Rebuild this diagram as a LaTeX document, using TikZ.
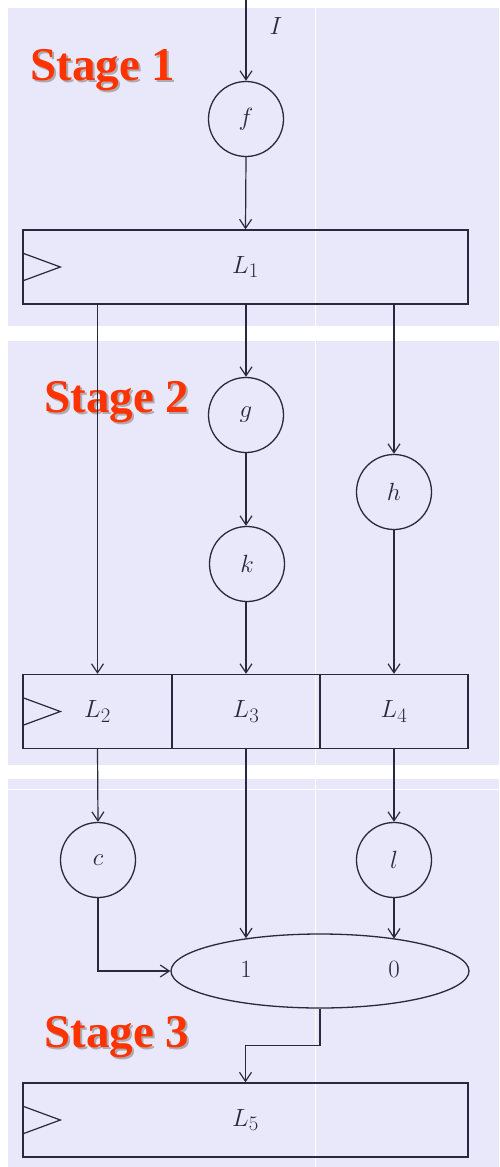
\documentclass[tikz,border=0pt]{standalone}
\usepackage{fontspec}
\newfontfamily\stagefont{Liberation Serif}
\usetikzlibrary{arrows.meta,shapes.geometric,calc}
\definecolor{lav}{RGB}{232,232,250}
\definecolor{ink}{RGB}{40,40,62}
\definecolor{stagered}{RGB}{255,51,0}
\definecolor{shadowgray}{RGB}{175,170,175}
\begin{document}
\begin{tikzpicture}[x=1pt,y=-1pt,
  every node/.style={font=\fontsize{29}{31}\selectfont, text=ink},
  bubble/.style={draw=ink, line width=1.3pt, circle, minimum size=75pt, inner sep=0pt},
  latch/.style={draw=ink, line width=1.3pt, rectangle, minimum height=74pt, inner sep=0pt},
  sel/.style={draw=ink, line width=1.3pt, ellipse, minimum width=298pt, minimum height=74pt, inner sep=0pt},
  arr/.style={draw=ink, line width=1.2pt, -{Straight Barb[length=9pt,width=12pt]}},
  wire/.style={draw=ink, line width=1.2pt},
  clk/.style={draw=ink, line width=1.2pt, line join=miter},
  stagelbl/.style={font=\stagefont\bfseries\fontsize{47}{50}\selectfont, text=stagered, anchor=base west},
  stageshadow/.style={font=\stagefont\bfseries\fontsize{47}{50}\selectfont, text=shadowgray, anchor=base west}
]
\useasboundingbox (0,0) rectangle (499,1167);
\fill[white] (0,0) rectangle (499,1167);
% panels
\fill[lav] (8,8) rectangle (499,326);
\fill[lav] (8,341) rectangle (499,765);
\fill[lav] (8,779) rectangle (499,1167);
\draw[white, line width=0.8pt] (315,8) -- (315,326);
\draw[white, line width=0.8pt] (315,341) -- (315,765);
\draw[white, line width=0.8pt] (315,779) -- (315,1167);
\draw[white, line width=0.8pt] (8,789) -- (499,789);

% stage labels
\node[stageshadow] at (29,82) {Stage 1};
\node[stagelbl] (s1) at (27,80) {Stage 1};
\node[stageshadow] at (43,414) {Stage 2};
\node[stagelbl] (s2) at (41,412) {Stage 2};
\node[stageshadow] at (43,1049) {Stage 3};
\node[stagelbl] (s3) at (41,1047) {Stage 3};

% stage 1
\coordinate (in) at (246,0);
\node (Ilbl) at (276,26) {$I$};
\node[bubble] (f) at (246,119) {$f$};
\node[latch, minimum width=445pt] (L1) at (245.5,267) {$L_1$};

% stage 2
\node[bubble] (g) at (246,415) {$g$};
\node[bubble] (k) at (247,564) {$k$};
\node[bubble] (h) at (394,492) {$h$};
\node[latch, minimum width=149pt] (L2) at (97.5,711.5) {$L_2$};
\node[latch, minimum width=148pt] (L3) at (246,711.5) {$L_3$};
\node[latch, minimum width=148pt] (L4) at (394,711.5) {$L_4$};

% stage 3
\node[bubble] (c) at (98,860) {$c$};
\node[bubble] (l) at (394,860) {$l$};
\node[sel] (E) at (320,971) {};
\node (one) at (246,969) {$1$};
\node (zero) at (394,969) {$0$};
\node[latch, minimum width=445pt] (L5) at (245.5,1120) {$L_5$};

% clock triangles
\draw[clk] ($(L1.west)+(0,-14)$) -- ($(L1.west)+(38,0)$) -- ($(L1.west)+(0,14)$);
\draw[clk] ($(L2.west)+(0,-14)$) -- ($(L2.west)+(38,0)$) -- ($(L2.west)+(0,14)$);
\draw[clk] ($(L5.west)+(0,-14)$) -- ($(L5.west)+(38,0)$) -- ($(L5.west)+(0,14)$);

% connectors
\draw[arr] (in) -- (f.north);
\draw[arr] (f.south) -- (L1.south |- L1.north);
\draw[arr] (L1.south -| L2.north) -- (L2.north);
\draw[arr] (L1.south -| g.north) -- (g.north);
\draw[arr] (L1.south -| h.north) -- (h.north);
\draw[arr] (g.south) -- (g.south |- k.north);
\draw[arr] (g.south |- k.south) -- (L3.north);
\draw[arr] (h.south) -- (L4.north);
\draw[arr] (L2.south) -- (c.north);
\draw[arr] (L4.south) -- (l.north);
\draw[arr] (L3.south) -- (L3.south |- E.156.6);
\draw[arr] (l.south) -- (l.south |- E.23.4);
\draw[arr] (c.south) |- (E.west);
\coordinate (mid) at ($(E.south)!0.5!(L5.north)$);
\draw[arr] (E.south) -- (E.south |- mid) -| (L5.north);
\end{tikzpicture}
\end{document}
